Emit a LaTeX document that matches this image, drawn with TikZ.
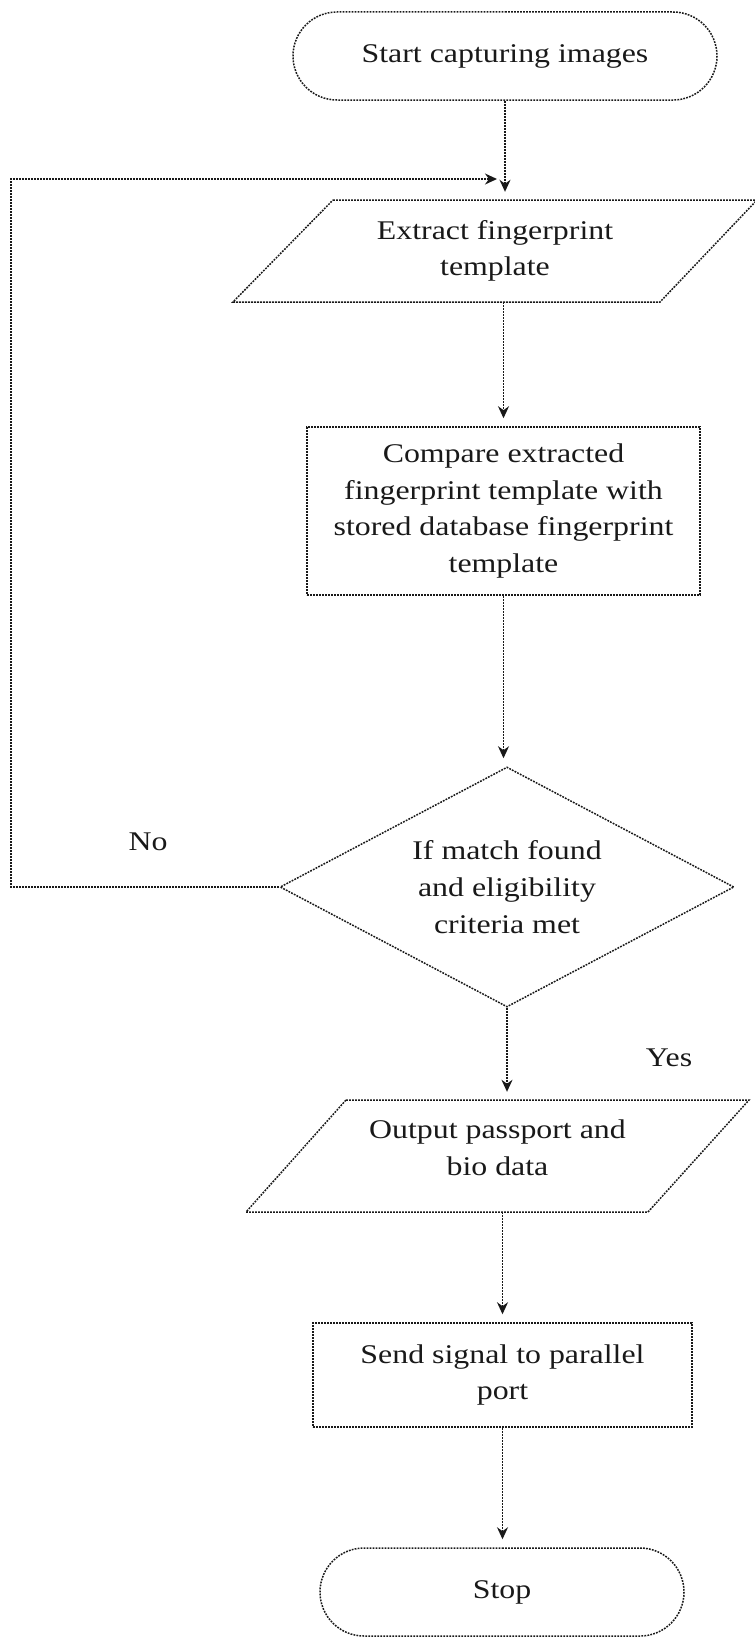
\documentclass[tikz,border=0pt]{standalone}
\usepackage{fontspec}
\setmainfont[FakeStretch=1.18]{Liberation Serif}
\usetikzlibrary{shapes.geometric,shapes.misc,arrows.meta}
\begin{document}
\begin{tikzpicture}[x=1bp,y=-1bp,
  line/.style={draw=black!90, line width=1.5bp, dash pattern=on 1.8bp off 1.2bp},
  arr/.style={line, -{Stealth[length=12bp,width=11bp]}, shorten >=8bp},
  txt/.style={font=\fontsize{27bp}{36.7bp}\selectfont, text=black!90, align=center, inner sep=0pt},
  term/.style={line, rounded rectangle, inner sep=0pt, font=\fontsize{27bp}{36.7bp}\selectfont, text=black!90, align=center},
  boxx/.style={line, rectangle, inner sep=0pt, font=\fontsize{27bp}{36.7bp}\selectfont, text=black!90, align=center},
  decis/.style={line, diamond, aspect=2, inner sep=0pt, font=\fontsize{27bp}{36.7bp}\selectfont, text=black!90, align=center}]
\useasboundingbox (0,0) rectangle (755,1638);

\node[term, minimum width=424bp, minimum height=88bp] (start) at (505,56) {Start capturing images};

% parallelogram: Extract
\draw[line] (333,200) -- (757,200) -- (660,302) -- (233,302) -- cycle;
\node[txt, minimum height=102bp] (extract) at (495,251) {Extract fingerprint\\template};

\node[boxx, minimum width=393bp, minimum height=168bp] (cmp) at (503.5,511) {Compare extracted\\fingerprint template with\\stored database fingerprint\\template};

\node[decis, minimum width=454bp, minimum height=240bp] (dec) at (507,887) {If match found\\and eligibility\\criteria met};

% parallelogram: Output
\draw[line] (346,1100) -- (749,1100) -- (648,1212) -- (246,1212) -- cycle;
\node[inner sep=0pt, minimum height=112bp] (out) at (497.5,1156) {};
\node[txt] (outt) at (497.5,1148) {Output passport and\\bio data};

\node[boxx, minimum width=379bp, minimum height=104bp] (send) at (502.5,1375) {Send signal to parallel\\port};

\node[term, minimum width=364bp, minimum height=88bp] (stop) at (502,1592) {Stop};

\node[txt] (no) at (148,842) {No};
\node[txt] (yes) at (669,1058) {Yes};

\coordinate (loopx) at (11,0);
\coordinate (loopend) at (503,179);

\draw[arr] (start.south) -- (start.south |- extract.north);
\draw[arr] (cmp.north |- extract.south) -- (cmp.north);
\draw[arr] (cmp.south) -- (cmp.south |- dec.north);
\draw[arr] (dec.south) -- (dec.south |- out.north);
\draw[arr] (send.north |- out.south) -- (send.north);
\draw[arr] (send.south) -- (send.south |- stop.north);
\draw[arr, shorten >=6bp] (dec.west) -- (dec.west -| loopx) |- (loopend);
\end{tikzpicture}
\end{document}
